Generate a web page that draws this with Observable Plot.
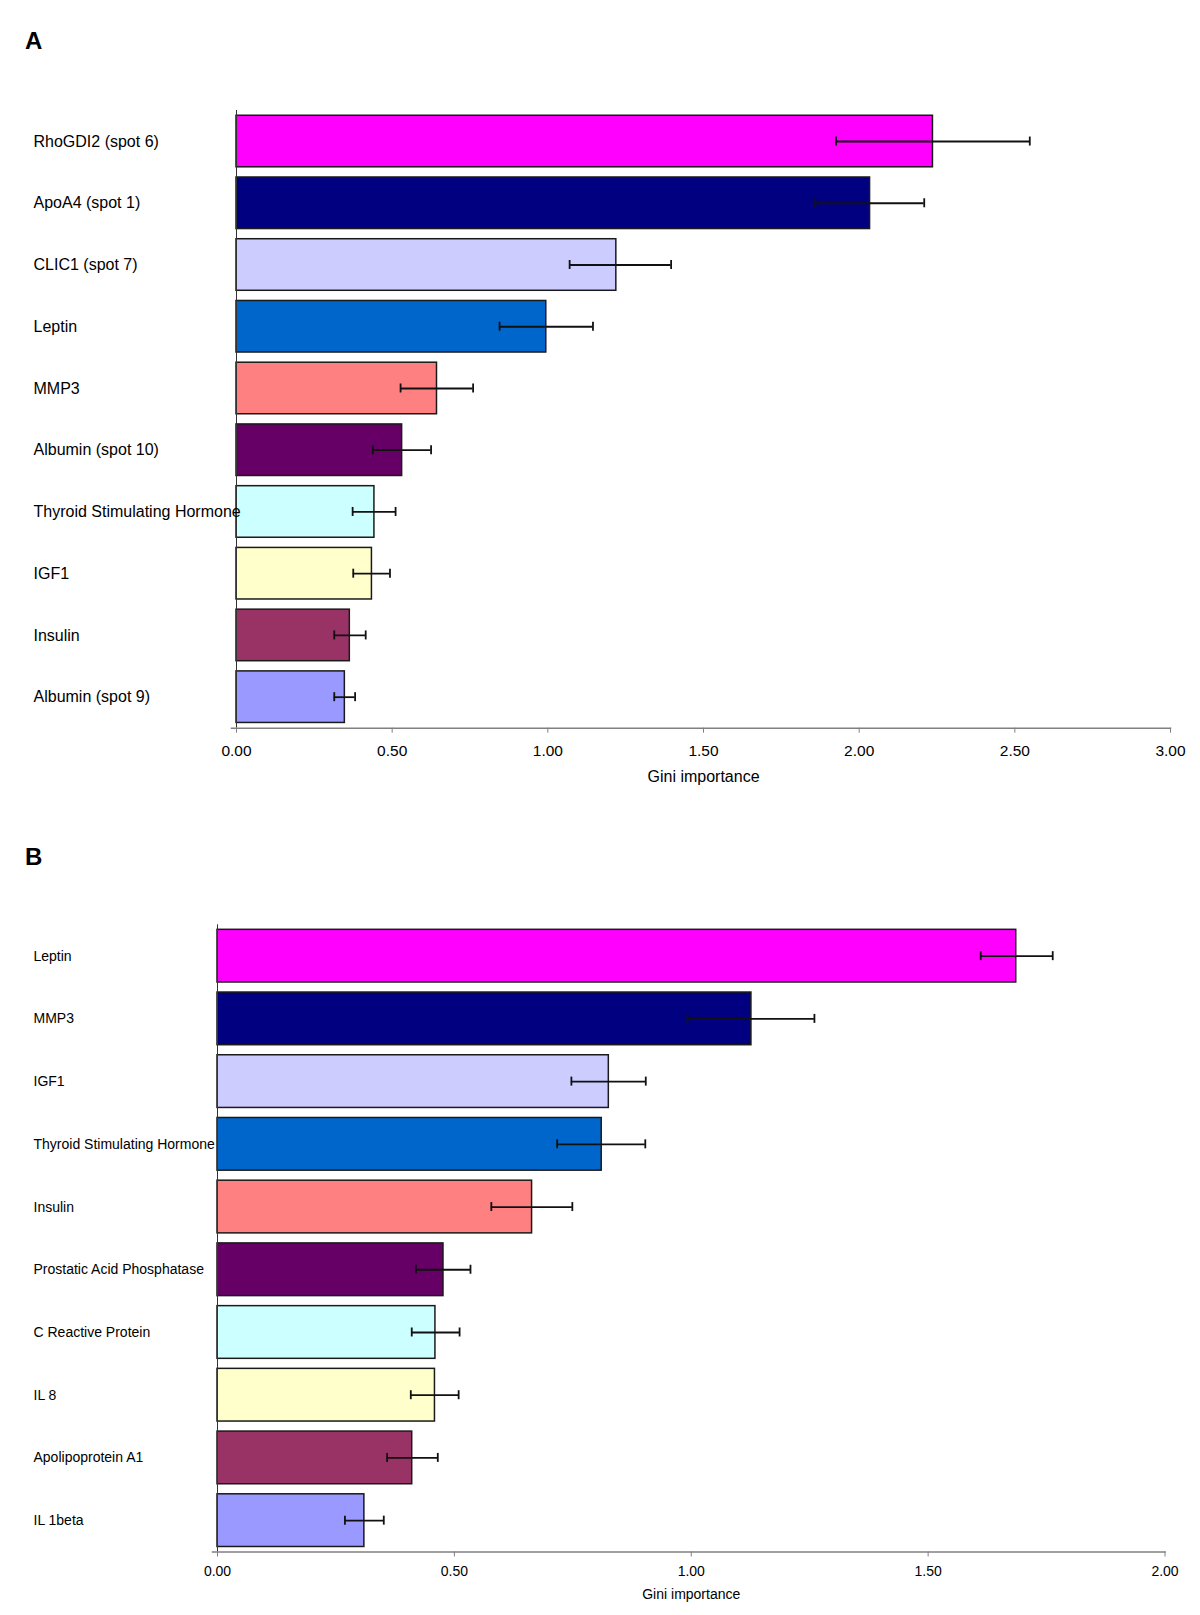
<!DOCTYPE html>
<html>
<head>
<meta charset="utf-8">
<script src="https://cdn.jsdelivr.net/npm/d3@7"></script>
<script src="https://cdn.jsdelivr.net/npm/@observablehq/plot@0.6"></script>
<style>
  body { margin: 0; background: #fff; font-family: "Liberation Sans", Arial, sans-serif; }
  #root { position: relative; width: 1200px; height: 1615px; background: #fff; }
  .panel { position: absolute; left: 0; z-index: 1; }
  .letter { position: absolute; left: 25px; font-size: 24px; font-weight: bold; line-height: 1; color: #000; z-index: 5; }
</style>
</head>
<body>
<div id="root">
  <div class="letter" style="top:28.6px">A</div>
  <div class="letter" style="top:845px">B</div>
</div>
<script>
// Excel-style palette shared by both panels (rank order)
const palette = ["#FF00FF", "#000080", "#CCCCFF", "#0066CC", "#FF8080",
                 "#660066", "#CCFFFF", "#FFFFCC", "#993366", "#9999FF"];

// Panel A
const namesA = ["RhoGDI2 (spot 6)", "ApoA4 (spot 1)", "CLIC1 (spot 7)", "Leptin", "MMP3",
                "Albumin (spot 10)", "Thyroid Stimulating Hormone", "IGF1", "Insulin", "Albumin (spot 9)"];
const valuesA = [2.237, 2.035, 1.220, 0.995, 0.644, 0.532, 0.443, 0.435, 0.364, 0.348];
const lowA    = [1.926, 1.859, 1.070, 0.845, 0.527, 0.438, 0.373, 0.375, 0.314, 0.314];
const highA   = [2.548, 2.209, 1.396, 1.145, 0.760, 0.625, 0.511, 0.493, 0.415, 0.381];
const ticksA = [0, 0.5, 1, 1.5, 2, 2.5, 3];

// Panel B
const namesB = ["Leptin", "MMP3", "IGF1", "Thyroid Stimulating Hormone", "Insulin",
                "Prostatic Acid Phosphatase", "C Reactive Protein", "IL 8", "Apolipoprotein A1", "IL 1beta"];
const valuesB = [1.686, 1.127, 0.826, 0.811, 0.664, 0.477, 0.460, 0.459, 0.411, 0.310];
const lowB    = [1.611, 0.992, 0.747, 0.717, 0.578, 0.419, 0.410, 0.408, 0.358, 0.269];
const highB   = [1.763, 1.260, 0.904, 0.903, 0.749, 0.534, 0.511, 0.509, 0.465, 0.351];
const ticksB = [0, 0.5, 1, 1.5, 2];

const axisTitle = "Gini importance";
const FONT = '"Liberation Sans", Arial, sans-serif';

function panel(cfg) {
  const data = cfg.names.map((name, i) => ({
    name, value: cfg.values[i], low: cfg.low[i], high: cfg.high[i], color: palette[i]
  }));
  const n = cfg.names.length;
  const range = cfg.height - cfg.marginTop - cfg.marginBottom;
  const step = range / (n - cfg.pi + 2 * cfg.po);
  const bandwidth = step * (1 - cfg.pi);
  const capInset = (bandwidth - 9) / 2;
  const errStyle = { stroke: "#111", strokeWidth: 1.8 };
  return Plot.plot({
    width: 1200,
    height: cfg.height,
    marginTop: cfg.marginTop,
    marginBottom: cfg.marginBottom,
    marginLeft: cfg.marginLeft,
    marginRight: cfg.marginRight,
    style: { fontFamily: FONT, color: "#000", background: "#fff", overflow: "visible" },
    x: { domain: cfg.domain, axis: null },
    y: { domain: cfg.names, paddingInner: cfg.pi, paddingOuter: cfg.po, round: false, axis: null },
    color: { type: "identity" },
    marks: [
      Plot.barX(data, { x: "value", y: "name", fill: "color", stroke: "#1a1a1a", strokeWidth: 1.5 }),
      Plot.ruleX([0], { stroke: "#333", strokeWidth: 1 }),
      Plot.frame({ anchor: "bottom", stroke: "#808080", strokeWidth: 1.5, insetLeft: -5 }),
      Plot.axisX({
        ticks: cfg.ticks, tickFormat: d3.format(".2f"), tickSize: 5,
        tickPadding: cfg.tickPadding, fontSize: cfg.tickFont, stroke: "#808080", label: null
      }),
      Plot.axisY({
        tickSize: 0, tickPadding: cfg.marginLeft - 33, textAnchor: "start",
        fontSize: cfg.labelFont, label: null
      }),
      Plot.ruleY(data, { y: "name", x1: "low", x2: "high", ...errStyle }),
      Plot.tickX(data, { x: "low", y: "name", insetTop: capInset, insetBottom: capInset, ...errStyle }),
      Plot.tickX(data, { x: "high", y: "name", insetTop: capInset, insetBottom: capInset, ...errStyle }),
      Plot.text([axisTitle], {
        text: d => d, frameAnchor: "bottom", dy: cfg.titleDy, lineAnchor: "middle",
        fontSize: cfg.titleFont, fill: "#000"
      })
    ]
  });
}

const root = document.getElementById("root");

const svgA = panel({
  names: namesA, values: valuesA, low: lowA, high: highA, ticks: ticksA, domain: [0, 3],
  height: 800, marginTop: 110, marginBottom: 72.3, marginLeft: 236, marginRight: 30,
  pi: 0.165, po: 0.085, tickPadding: 12, tickFont: 15.5, labelFont: 16, titleFont: 16, titleDy: 48.3
});
svgA.classList.add("panel");
svgA.style.top = "0px";
root.appendChild(svgA);

const svgB = panel({
  names: namesB, values: valuesB, low: lowB, high: highB, ticks: ticksB, domain: [0, 2],
  height: 815, marginTop: 124.3, marginBottom: 63.5, marginLeft: 217, marginRight: 35.5,
  pi: 0.16, po: 0.08, tickPadding: 9, tickFont: 14, labelFont: 14, titleFont: 14, titleDy: 43
});
svgB.classList.add("panel");
svgB.style.top = "800px";
root.appendChild(svgB);
</script>
</body>
</html>
